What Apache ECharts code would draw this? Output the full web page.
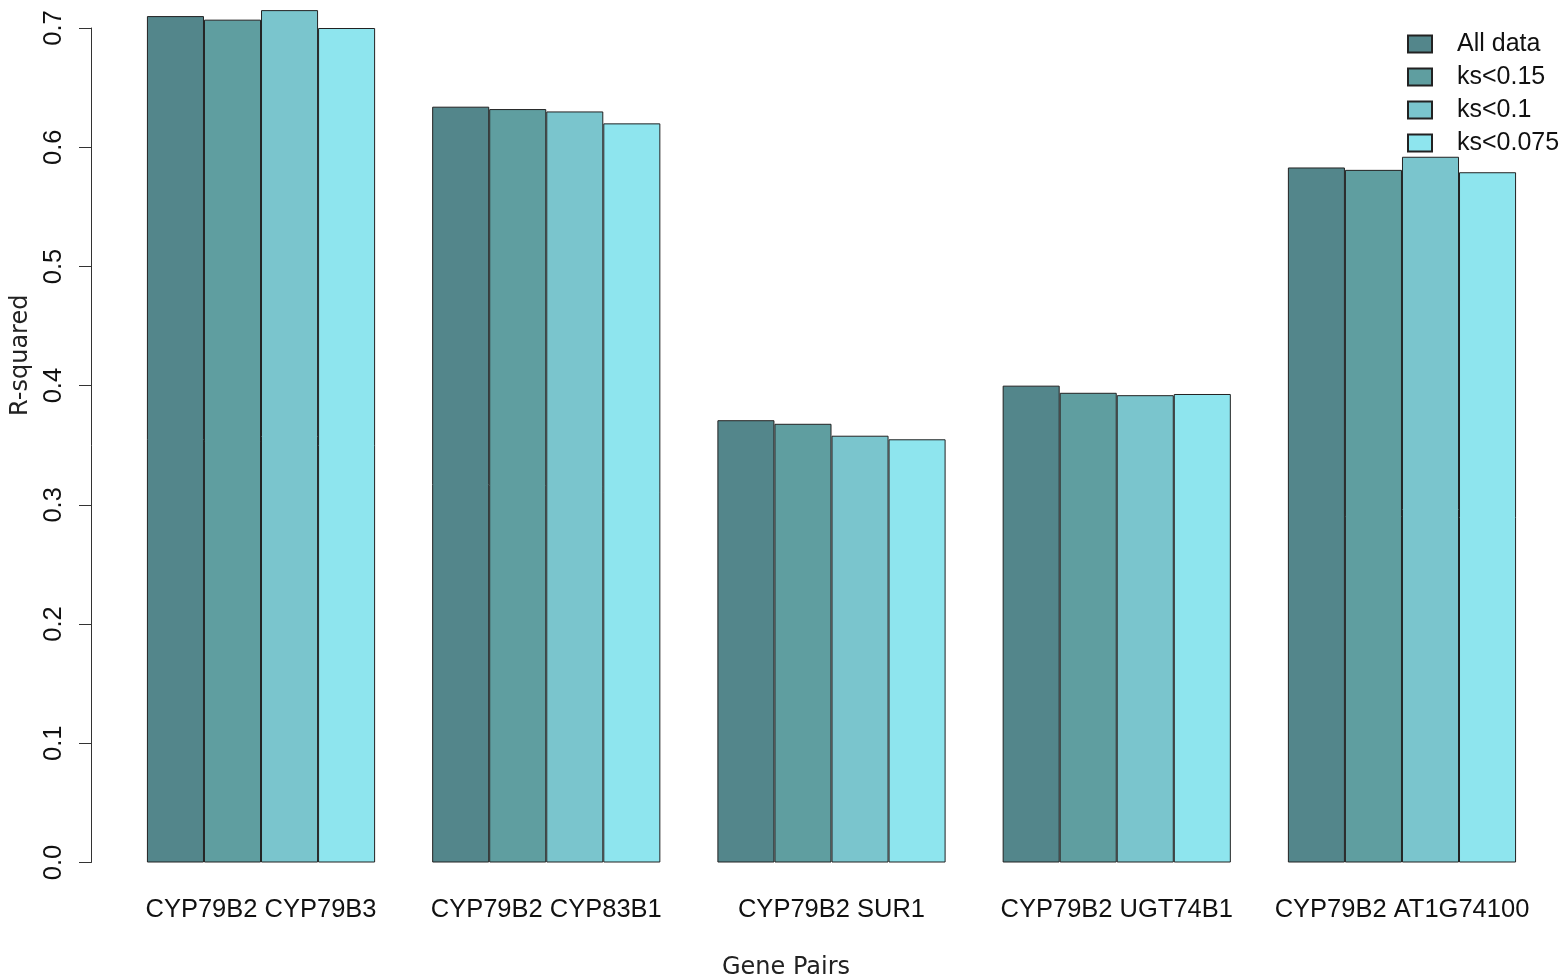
<!DOCTYPE html>
<html>
<head>
<meta charset="utf-8">
<script src="https://cdn.jsdelivr.net/npm/echarts@6/dist/echarts.min.js"></script>
<style>html,body{margin:0;padding:0;background:#fff;overflow:hidden}#c{width:1562px;height:980px}</style>
</head>
<body>
<div id="c"></div>
<script>
const categories = ['CYP79B2 CYP79B3', 'CYP79B2 CYP83B1', 'CYP79B2 SUR1', 'CYP79B2 UGT74B1', 'CYP79B2 AT1G74100'];
const seriesNames = ['All data', 'ks<0.15', 'ks<0.1', 'ks<0.075'];
const allData = [0.710, 0.634, 0.371, 0.400, 0.583];
const ks015  = [0.707, 0.632, 0.368, 0.394, 0.581];
const ks01   = [0.715, 0.630, 0.358, 0.392, 0.592];
const ks0075 = [0.700, 0.620, 0.355, 0.393, 0.579];
const yTicks = [0, 0.1, 0.2, 0.3, 0.4, 0.5, 0.6, 0.7];
const colors = ['#53868B', '#5F9EA0', '#7AC5CD', '#8EE5EE'];

const values = [allData, ks015, ks01, ks0075];
const chart = echarts.init(document.getElementById('c'), null, {renderer: 'canvas'});
const sans = 'Liberation Sans, Arial, Helvetica, sans-serif';
chart.setOption({
  animation: false,
  backgroundColor: '#ffffff',
  color: colors,
  grid: {left: 118.4, right: 17.4, top: 28, bottom: 117.5, containLabel: false, outerBoundsMode: 'none'},
  legend: {
    data: seriesNames,
    orient: 'vertical',
    left: 1407, top: 31.5,
    padding: 0,
    itemWidth: 24, itemHeight: 17, itemGap: 8,
    icon: 'rect',
    textStyle: {fontFamily: sans, fontSize: 25, color: '#111', lineHeight: 25, padding: [0, 0, 0, 20]}
  },
  xAxis: {
    type: 'category',
    data: categories,
    axisLine: {show: false},
    axisTick: {show: false},
    axisLabel: {fontFamily: sans, fontSize: 25.5, color: '#111', margin: 34.5, interval: 0},
    name: 'Gene Pairs',
    nameLocation: 'middle',
    nameGap: 93.5,
    nameTextStyle: {fontFamily: 'DejaVu Sans', fontSize: 24, color: '#222', padding: [0, 91, 0, 0]}
  },
  yAxis: {
    type: 'value',
    min: 0, max: 0.7, interval: 0.1,
    offset: 27.4,
    splitLine: {show: false},
    axisLine: {show: true, lineStyle: {color: '#333', width: 1}},
    axisTick: {show: true, length: 12, lineStyle: {color: '#333', width: 1}},
    axisLabel: {
      fontFamily: sans, fontSize: 25.5, color: '#111', rotate: 90, margin: 24,
      formatter: v => yTicks.indexOf(Math.round(v * 10) / 10) >= 0 ? v.toFixed(1) : ''
    },
    name: 'R-squared',
    nameLocation: 'middle',
    nameRotate: 90,
    nameGap: 57,
    nameTextStyle: {fontFamily: 'DejaVu Sans', fontSize: 24, color: '#222', padding: [0, 0, 0, 180]}
  },
  series: seriesNames.map((n, i) => ({
    name: n,
    type: 'bar',
    data: values[i],
    clip: false,
    barGap: '0%',
    barCategoryGap: '20%',
    itemStyle: {color: colors[i], borderColor: '#222', borderWidth: 1}
  }))
});
</script>
</body>
</html>
